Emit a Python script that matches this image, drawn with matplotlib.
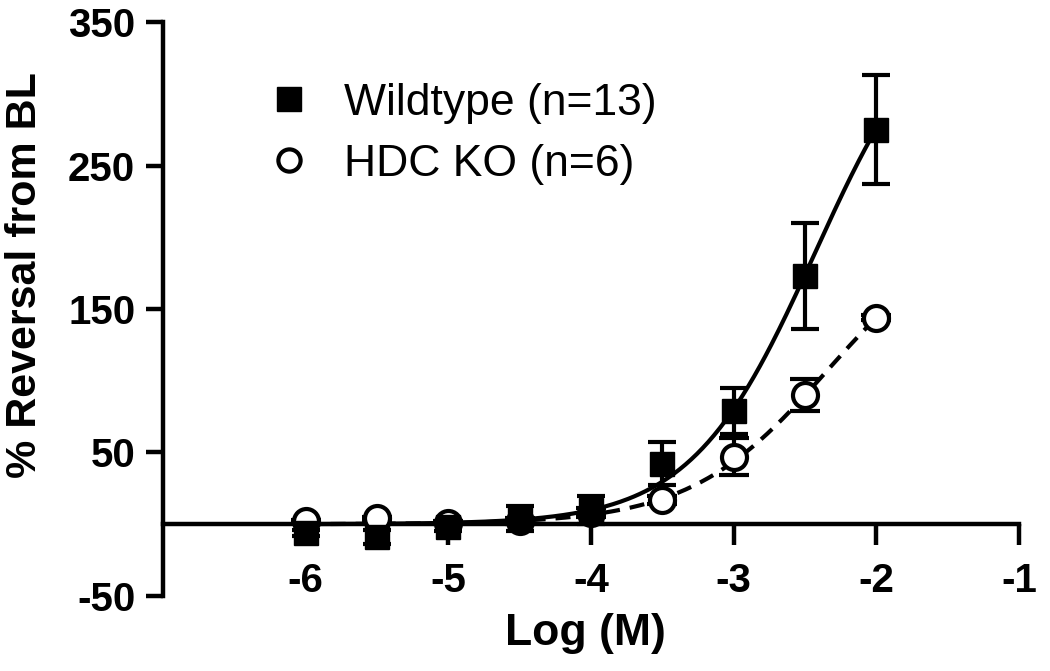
import numpy as np
import matplotlib
matplotlib.use("Agg")
import matplotlib.pyplot as plt
from matplotlib.lines import Line2D

plt.rcParams['font.family'] = ['Liberation Sans', 'DejaVu Sans']
plt.rcParams['axes.unicode_minus'] = False

# log concentration (M)
log_conc = [-6, -5.5, -5, -4.5, -4, -3.5, -3, -2.5, -2]

# Wildtype (n=13)
wt_mean = [-6, -9, -2, 4, 10, 42, 79, 173, 275]
wt_sem = [2, 5, 3, 9, 10, 15, 16, 37, 38]

# HDC KO (n=6)
ko_mean = [2, 4, 1, 2, 8, 17, 47, 90, 144]
ko_sem = [1, 1, 1, 2, 3, 3, 13, 11, 2]

# dose-response fit parameters (bottom, top, logEC50, hill)
wt_fit = (0, 378, -2.43, 1.0)
ko_fit = (0, 215, -2.34, 0.9)


def dose_response(x, bottom, top, logec50, hill):
    return bottom + (top - bottom) / (1 + 10 ** ((logec50 - x) * hill))


fig = plt.figure(figsize=(10.5, 6.71), dpi=100)
ax = fig.add_axes([0.1552, 0.1118, 0.8152, 0.8554])

xs = np.linspace(log_conc[0], log_conc[-1], 300)
ax.plot(xs, dose_response(xs, *wt_fit), color='black', lw=3, solid_capstyle='butt', zorder=3)
ax.plot(xs, dose_response(xs, *ko_fit), color='black', lw=3,
        linestyle=(0, (3.6, 2.4)), zorder=3)

ax.errorbar(log_conc, ko_mean, yerr=ko_sem, fmt='o', ms=18, mfc='white', mec='black',
            mew=3, ecolor='black', elinewidth=3, capsize=11, capthick=3, zorder=4)
ax.errorbar(log_conc, wt_mean, yerr=wt_sem, fmt='s', ms=17, mfc='black', mec='black',
            ecolor='black', elinewidth=3, capsize=10, capthick=3, zorder=5)

ax.set_xlim(-7, -1)
ax.set_ylim(-50, 350)
ax.set_xticks([-6, -5, -4, -3, -2, -1])
ax.set_yticks([-50, 50, 150, 250, 350])

for s in ['top', 'right']:
    ax.spines[s].set_visible(False)
ax.spines['bottom'].set_position(('data', 0))
ax.spines['left'].set_linewidth(3.2)
ax.spines['bottom'].set_linewidth(3.2)

ax.tick_params(axis='y', length=12, width=3.2, pad=8, labelsize=29)
ax.tick_params(axis='x', length=15, width=3.2, pad=12, labelsize=29)
for lab in ax.get_xticklabels() + ax.get_yticklabels():
    lab.set_fontweight('bold')

ax.set_ylabel('% Reversal from BL', fontsize=31, fontweight='bold')
ax.yaxis.set_label_coords(-0.138, 0.559)
ax.set_xlabel('Log (M)', fontsize=32, fontweight='bold')
ax.xaxis.set_label_coords(0.493, -0.03)

handles = [
    Line2D([], [], marker='s', ls='none', color='black', ms=17),
    Line2D([], [], marker='o', ls='none', mfc='white', mec='black', mew=3, ms=16),
]
ax.legend(handles, ['Wildtype (n=13)', 'HDC KO (n=6)'], loc='upper left',
          bbox_to_anchor=(0.1, 0.925), frameon=False, fontsize=32,
          handlelength=1.0, handletextpad=0.75, labelspacing=0.45, borderaxespad=0)

fig.savefig('out.png', dpi=100)
